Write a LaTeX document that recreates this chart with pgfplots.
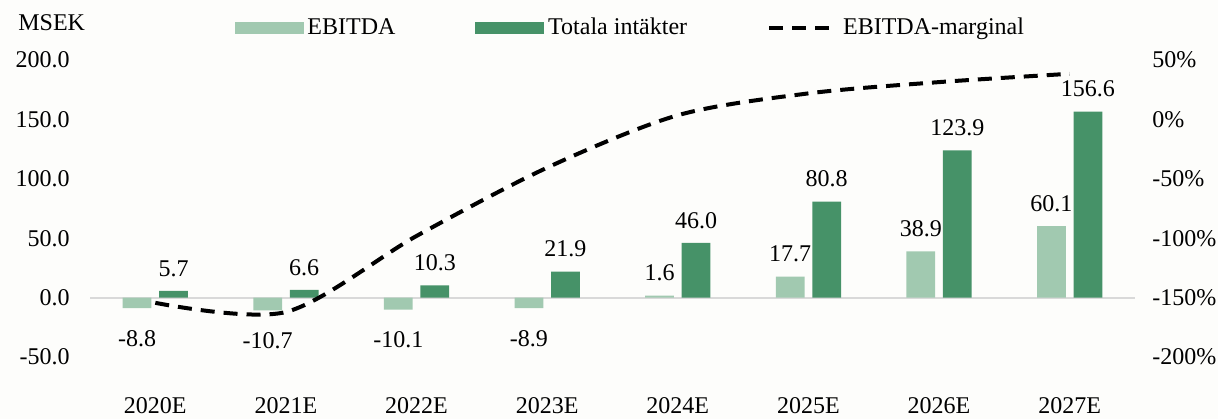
\documentclass[border=0pt]{standalone}
\usepackage{pgfplots}
\pgfplotsset{compat=1.18}
\usepackage{fontspec}
\setmainfont{Liberation Serif}
\definecolor{lightg}{RGB}{161,201,176}
\definecolor{darkg}{RGB}{70,146,104}
\definecolor{bg}{RGB}{253,253,251}
\definecolor{zline}{RGB}{217,217,217}
\begin{document}
\fontsize{12}{14}\selectfont
\begin{tikzpicture}[font=\fontsize{12}{14}\selectfont]
\fill[bg] (0,0) rectangle (609pt,209.5pt);
\useasboundingbox (0,0) rectangle (609pt,209.5pt);
\begin{axis}[
  at={(45pt,31pt)}, anchor=south west, scale only axis,
  width=522.5pt, height=148.5pt,
  xmin=-0.5, xmax=7.5, ymin=-50, ymax=200,
  xtick={0,1,2,3,4,5,6,7},
  xticklabels={2020E,2021E,2022E,2023E,2024E,2025E,2026E,2027E},
  ytick={-50,0,50,100,150,200},
  axis line style={draw=none}, major tick length=0pt,
  /pgf/number format/assume math mode=true,
  /pgf/number format/fixed, /pgf/number format/fixed zerofill,
  /pgf/number format/precision=1,
  yticklabel style={xshift=-6pt},
  xticklabel style={yshift=-16pt},
  extra y ticks={0}, extra y tick labels={},
  extra tick style={grid=major, major grid style={zline, line width=1pt}},
  ybar, bar width=0.22,
  nodes near coords, nodes near coords align={vertical},
  every node near coord/.append style={inner ysep=7pt, black},
]
\addplot[fill=lightg, draw=none, bar shift=-0.14,
  every node near coord/.append style={yshift=-4pt}] coordinates {
  (0,-8.8) (1,-10.7) (2,-10.1) (3,-8.9)};
\addplot[fill=lightg, draw=none, bar shift=-0.14] coordinates {
  (4,1.6) (5,17.7) (6,38.9) (7,60.1)};
\addplot[fill=darkg, draw=none, bar shift=0.14] coordinates {
  (0,5.7) (1,6.6) (2,10.3) (3,21.9) (4,46.0) (5,80.8) (6,123.9) (7,156.6)};
\end{axis}
\begin{axis}[
  at={(45pt,31pt)}, anchor=south west, scale only axis,
  width=522.5pt, height=148.5pt,
  xmin=-0.5, xmax=7.5, ymin=-200, ymax=50,
  axis x line=none, axis y line*=right,
  axis line style={draw=none}, major tick length=0pt,
  ytick={-200,-150,-100,-50,0,50},
  /pgf/number format/assume math mode=true,
  yticklabel={\pgfmathprintnumber[fixed,precision=0]{\tick}\%},
  yticklabel style={xshift=4.5pt},
  legend columns=3,
  legend style={at={(0.518,1.108)}, anchor=center, draw=none, fill=none,
    /tikz/every even column/.append style={column sep=38pt},
    nodes={inner xsep=2pt}},
]
\addlegendimage{legend image code/.code={\fill[lightg] (0pt,-2.75pt) rectangle (34pt,2.75pt);}}
\addlegendentry{EBITDA}
\addlegendimage{legend image code/.code={\fill[darkg] (0pt,-2.75pt) rectangle (34pt,2.75pt);}}
\addlegendentry{Totala intäkter}
\addplot[black, line width=2pt, dash pattern=on 7pt off 4.5pt, smooth, mark=none,
  legend image code/.code={\draw[black, line width=2pt, dash pattern=on 7pt off 4.5pt] (0pt,0pt) -- (34pt,0pt);}] coordinates {
  (0,-154.4) (1,-162.1) (2,-98.1) (3,-40.6) (4,3.5) (5,21.9) (6,31.4) (7,38.4)};
\addlegendentry{EBITDA-marginal}
\end{axis}
\node[anchor=west] at (5pt,198.3pt) {MSEK};
\end{tikzpicture}
\end{document}
